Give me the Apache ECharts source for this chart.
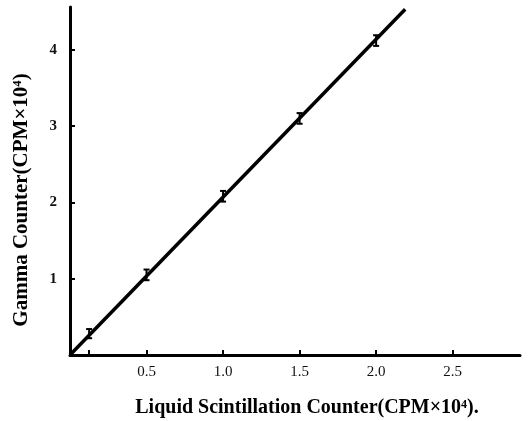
<!DOCTYPE html>
<html><head><meta charset="utf-8">
<script src="https://cdn.jsdelivr.net/npm/echarts@6/dist/echarts.min.js"></script>
<style>html,body{margin:0;padding:0;background:#fff}#c{width:530px;height:421px}</style>
</head><body><div id="c"></div>
<script>
const xValues = [0.125, 0.5, 1.0, 1.5, 2.0];
const yValues = [0.28, 1.05, 2.08, 3.1, 4.12];
const yErrors = [0.06, 0.07, 0.07, 0.07, 0.07];
const fitLine = [[0, 0], [2.19, 4.53]];
const xTickValues = [0.125, 0.5, 1.0, 1.5, 2.0, 2.5];
const xLabelValues = [0.5, 1.0, 1.5, 2.0, 2.5];
const yLabelValues = [1, 2, 3, 4];
const xTitle = 'Liquid Scintillation Counter(CPM×10⁴).';
const yTitle = 'Gamma Counter(CPM×10⁴)';

const chart = echarts.init(document.getElementById('c'));
const font = 'Liberation Serif';
chart.setOption({
  animation: false,
  backgroundColor: '#fff',
  grid: {left: 70, top: 7, right: 10, bottom: 66, containLabel: false, outerBoundsMode: 'none'},
  xAxis: {
    type: 'value', min: 0, max: 2.94,
    axisLine: {lineStyle: {color: '#000', width: 3}},
    axisTick: {inside: true, length: 5, lineStyle: {color: '#000', width: 2}, customValues: xTickValues},
    axisLabel: {customValues: xLabelValues, formatter: v => v.toFixed(1), color: '#111', fontFamily: font, fontSize: 15, margin: 10},
    splitLine: {show: false},
    name: xTitle, nameLocation: 'middle', nameGap: 43,
    nameTextStyle: {fontFamily: font, fontSize: 20, fontWeight: 'bold', color: '#000', padding: [0, 0, 0, 24]}
  },
  yAxis: {
    type: 'value', min: 0, max: 4.56,
    axisLine: {show: true, lineStyle: {color: '#000', width: 3}},
    axisTick: {inside: true, length: 5, lineStyle: {color: '#000', width: 2}, customValues: yLabelValues},
    axisLabel: {customValues: yLabelValues, color: '#111', fontFamily: font, fontSize: 15, fontWeight: 'bold', margin: 13},
    splitLine: {show: false},
    name: yTitle, nameLocation: 'middle', nameGap: 38, nameRotate: 90,
    nameTextStyle: {fontFamily: font, fontSize: 21, fontWeight: 'bold', color: '#000', padding: [0, 38, 0, 0]}
  },
  series: [
    {type: 'line', data: fitLine, symbol: 'none', lineStyle: {color: '#000', width: 3.5}},
    {
      type: 'custom',
      data: xValues.map((x, i) => [x, yValues[i], yErrors[i]]),
      renderItem: function (params, api) {
        const x = api.value(0), y = api.value(1), e = api.value(2);
        const hi = api.coord([x, y + e]);
        const lo = api.coord([x, y - e]);
        const w = 3;
        return {type: 'group', children: [
          {type: 'line', shape: {x1: hi[0], y1: hi[1], x2: lo[0], y2: lo[1]}, style: {stroke: '#000', lineWidth: 2}},
          {type: 'line', shape: {x1: hi[0] - w, y1: hi[1], x2: hi[0] + w, y2: hi[1]}, style: {stroke: '#000', lineWidth: 2}},
          {type: 'line', shape: {x1: lo[0] - w, y1: lo[1], x2: lo[0] + w, y2: lo[1]}, style: {stroke: '#000', lineWidth: 2}}
        ]};
      }
    }
  ]
});
</script></body></html>
